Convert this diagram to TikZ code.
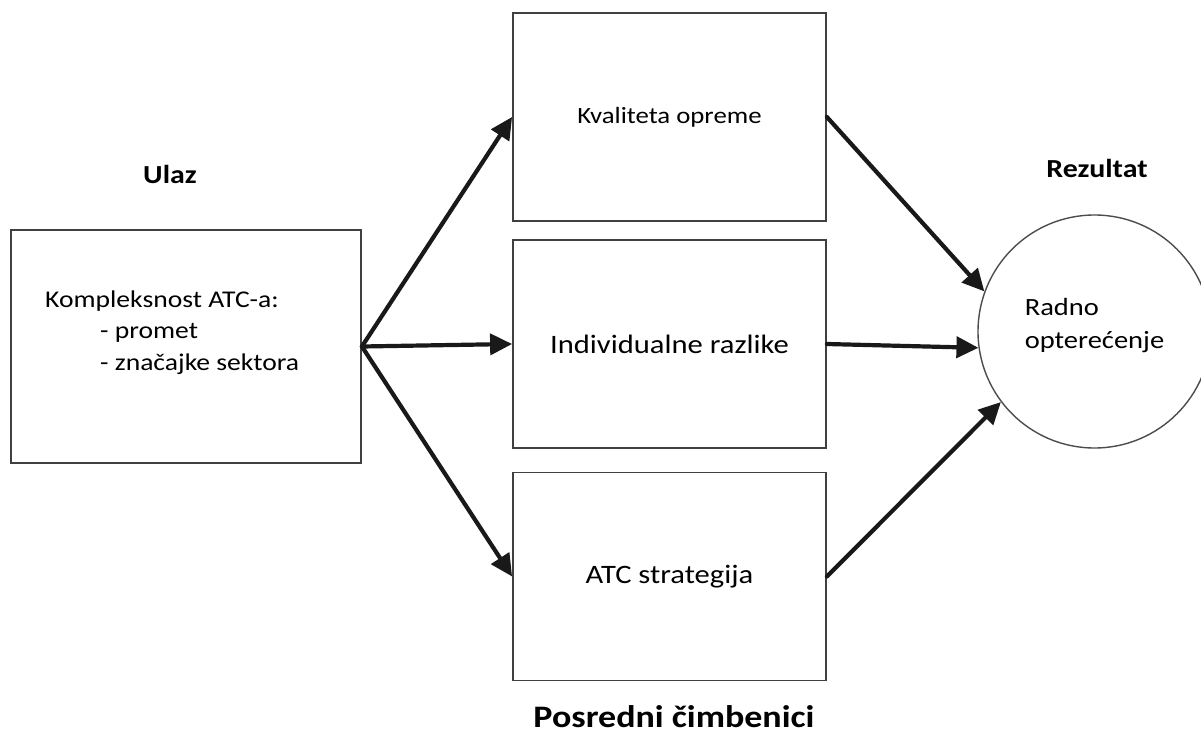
\documentclass[tikz,border=0pt]{standalone}
\usepackage{fontspec}
\setmainfont{Carlito}[FakeStretch=1.15]
\usetikzlibrary{arrows.meta}

\begin{document}
\begin{tikzpicture}[x=1pt, y=-1pt,
    frame/.style={draw=black!75, line width=1.8pt, inner sep=0pt},
    factor/.style={frame, minimum width=313pt, minimum height=208pt,
                   font=\fontsize{26.6}{32}\selectfont},
    flow/.style={line width=4.2pt, draw=black!90, line cap=round,
                 -{Triangle[length=22pt,width=21pt]}},
    heading/.style={font=\fontsize{26}{31}\selectfont\bfseries, inner sep=0pt, anchor=base}]
\useasboundingbox (0,0) rectangle (1201,733);

% input
\node[frame, minimum width=350pt, minimum height=233pt] (inp) at (186,346.5) {};
\node[anchor=base west, align=left, inner sep=0pt,
      font=\fontsize{24}{31.5}\selectfont] (inptext) at (45,370)
  {Kompleksnost ATC-a:\\ \hspace*{55pt}- promet\\ \hspace*{55pt}- značajke sektora};
\node[heading] (ulaz) at (170,183) {Ulaz};

% mediating factors
\node[factor, font=\fontsize{23.3}{28}\selectfont] (opr) at (669.5,117) {Kvaliteta opreme};
\node[factor] (ind) at (669.5,344) {Individualne razlike};
\node[factor] (str) at (669.5,576.5) {ATC strategija};
\node[heading, font=\fontsize{31.3}{36}\selectfont\bfseries] (posr) at (674,727) {Posredni čimbenici};

% result
\node[circle, draw=black!70, line width=1.4pt, minimum size=233pt, inner sep=0pt] (res) at (1094.5,331.5) {};
\node[align=left, inner sep=0pt, font=\fontsize{24.8}{33.5}\selectfont] (restext)
  at ([yshift=6pt]res.center) {Radno\\ opterećenje};
\node[heading] (rez) at (1097,177) {Rezultat};

% arrows
\foreach \m in {opr,ind,str}
  \draw[flow] (inp.east) -- (\m.west);
\draw[flow] (opr.east) -- (res.160.6);
\draw[flow] (ind.east) -- (res.188);
\draw[flow] (str.east) -- (res.217);
\end{tikzpicture}
\end{document}
